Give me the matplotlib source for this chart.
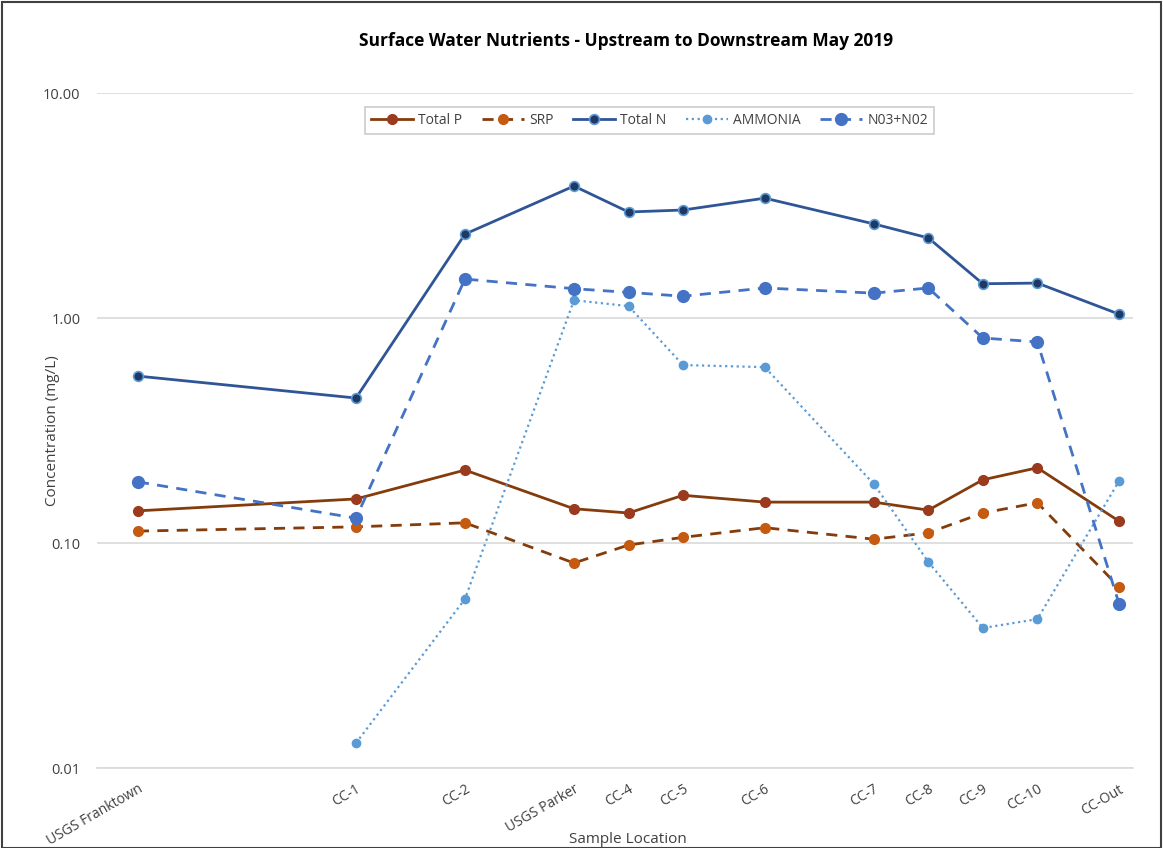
import matplotlib.pyplot as plt
from matplotlib.ticker import FixedLocator, NullLocator
from matplotlib.patches import Rectangle

plt.rcParams['font.family'] = ['Open Sans', 'DejaVu Sans']

# sample sites and their position along the creek (chart x units)
sites = ["USGS Franktown", "CC-1", "CC-2", "USGS Parker", "CC-4", "CC-5",
         "CC-6", "CC-7", "CC-8", "CC-9", "CC-10", "CC-Out"]
site_pos = [0, 8, 12, 16, 18, 20, 23, 27, 29, 31, 33, 36]

total_p = [0.139, 0.157, 0.211, 0.142, 0.136, 0.163, 0.152, 0.152, 0.140, 0.191, 0.216, 0.125]
srp = [0.113, 0.118, 0.123, 0.0815, 0.098, 0.106, 0.117, 0.104, 0.111, 0.136, 0.151, 0.0637]
total_n = [0.552, 0.441, 2.36, 3.86, 2.96, 3.02, 3.41, 2.62, 2.27, 1.42, 1.43, 1.04]
ammonia = [None, 0.0129, 0.0564, 1.20, 1.13, 0.618, 0.605, 0.183, 0.0824, 0.0419, 0.0459, 0.189]
no3_no2 = [0.187, 0.129, 1.49, 1.35, 1.30, 1.25, 1.36, 1.29, 1.36, 0.815, 0.783, 0.0536]

fig = plt.figure(figsize=(11.63, 8.48), dpi=100)
ax = fig.add_axes([0.0834, 0.0943, 0.8906, 0.796])

ax.plot(site_pos, total_p, color="#843C0C", lw=2, marker="o", ms=7,
        mfc="#9A3A1E", mec="#9A3A1E", label="Total P", zorder=3)
ax.plot(site_pos, srp, color="#843C0C", lw=2, ls=(0, (4, 3)), marker="o", ms=7,
        mfc="#C55A11", mec="#C55A11", label="SRP", zorder=3)
ax.plot(site_pos, total_n, color="#2F5597", lw=2, marker="o", ms=7,
        mfc="#203864", mec="#5B9BD5", mew=1.2, label="Total N", zorder=3)
amm_x = [x for x, v in zip(site_pos, ammonia) if v is not None]
amm_y = [v for v in ammonia if v is not None]
ax.plot(amm_x, amm_y, color="#5B9BD5", lw=1.6, ls=(0, (1, 1.6)), marker="o", ms=6,
        mfc="#5B9BD5", mec="#5B9BD5", label="AMMONIA", zorder=3)
ax.plot(site_pos, no3_no2, color="#4472C4", lw=2, ls=(0, (4, 3)), marker="o", ms=8.5,
        mfc="#4472C4", mec="#4472C4", label="N03+N02", zorder=3)

ax.set_yscale("log")
ax.set_ylim(0.01, 10)
ax.set_xlim(-1.5, 36.5)
ax.yaxis.set_major_locator(FixedLocator([0.01, 0.1, 1, 10]))
ax.yaxis.set_minor_locator(NullLocator())
ax.set_yticklabels(["0.01", "0.10", "1.00", "10.00"], fontsize=10.5, color="#404040")
ax.set_xticks(site_pos)
ax.set_xticklabels(sites, rotation=30, ha="right", rotation_mode="anchor",
                   fontsize=10, color="#404040")
ax.tick_params(axis="y", length=0, pad=12)
ax.tick_params(axis="x", length=0, pad=10)
ax.grid(axis="y", color="#D9D9D9", lw=1.2)
ax.set_axisbelow(True)
for s in ["top", "right", "left"]:
    ax.spines[s].set_visible(False)
ax.spines["bottom"].set_color("#D9D9D9")
ax.spines["bottom"].set_linewidth(1.2)

ax.set_ylabel("Concentration (mg/L)", fontsize=11, color="#404040")
ax.yaxis.set_label_coords(-0.036, 0.5)
ax.set_xlabel("Sample Location", fontsize=11, color="#404040")
ax.xaxis.set_label_coords(0.5125, -0.095)
fig.text(0.538, 0.952, "Surface Water Nutrients - Upstream to Downstream May 2019",
         ha="center", va="center", fontsize=12.5, fontweight="bold", color="black")

leg = ax.legend(loc="upper center", bbox_to_anchor=(0.5335, 0.99), ncol=5,
                frameon=True, fancybox=False, fontsize=10, handlelength=3.0,
                columnspacing=1.4, borderpad=0.45, handletextpad=0.4)
leg.get_frame().set_edgecolor("#BFBFBF")
leg.get_frame().set_linewidth(1.2)
for t in leg.get_texts():
    t.set_color("#404040")

fig.patches.append(Rectangle((0.002, 0.0), 0.996, 0.998, transform=fig.transFigure,
                             fill=False, edgecolor="#404040", lw=1.5))

fig.savefig("out.png", dpi=100)
